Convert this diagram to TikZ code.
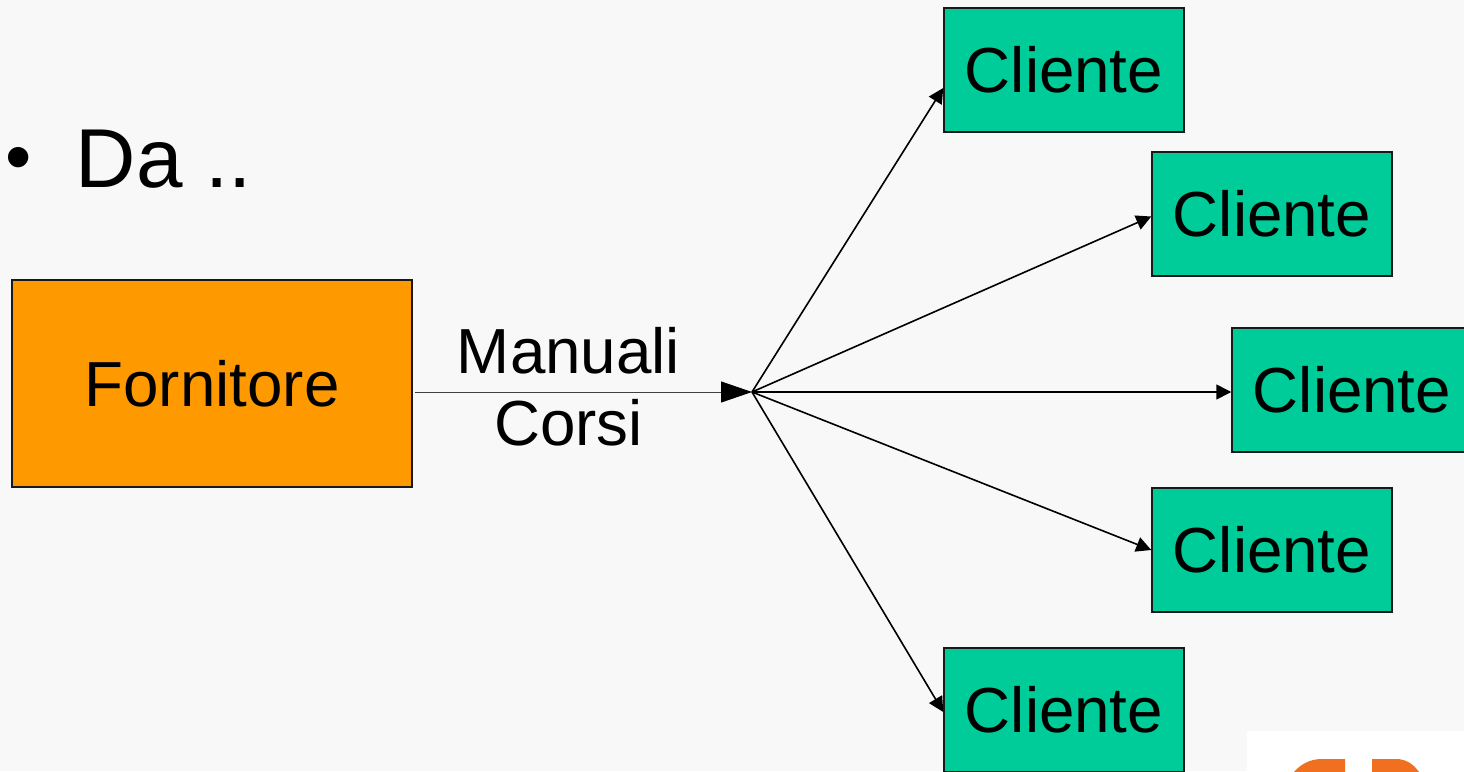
\documentclass[tikz,border=0pt]{standalone}
\usepackage{fontspec}
\setmainfont{Liberation Sans}
\usetikzlibrary{arrows.meta}
\definecolor{bgcol}{HTML}{F8F8F8}
\definecolor{clientecol}{HTML}{00CC99}
\definecolor{fornitorecol}{HTML}{FF9900}
\definecolor{logocol}{HTML}{F07020}
\tikzset{
  boxbase/.style={draw=black!90,line width=1.5pt,inner sep=0pt,font=\fontsize{63.7}{72}\selectfont,text height=45pt,text depth=0pt},
  cliente/.style={boxbase,fill=clientecol,minimum width=240pt,minimum height=124pt},
  fornitore/.style={boxbase,fill=fornitorecol,minimum width=400pt,minimum height=207pt},
  fan/.style={draw=black,line width=1.6pt,-{Triangle[length=15pt,width=15pt]}},
  feed/.style={draw=black!75,line width=0.9pt,-{Triangle[length=31pt,width=21pt,color=black]}},
  lab/.style={font=\fontsize{63.7}{72}\selectfont,anchor=base,inner sep=0pt},
  big/.style={font=\fontsize{83.6}{90}\selectfont,anchor=base west,inner sep=0pt},
  bulletmark/.style={font=\fontsize{75}{90}\selectfont,anchor=base west,inner sep=0pt}
}
\begin{document}
\begin{tikzpicture}[x=1pt,y=-1pt]
\useasboundingbox (0,0) rectangle (1464,771);
\fill[bgcol] (0,0) rectangle (1464,771);
% logo fragment
\fill[white] (1247,731) rectangle (1464,771);
\begin{scope}
\clip (1247,731) rectangle (1464,771);
\fill[logocol] (1345,759) -- (1345,772) -- (1294,772) .. controls (1300,765) and (1309,759) .. (1322,759) -- cycle;
\fill[logocol] (1372,759) -- (1372,772) -- (1419,772) .. controls (1414,765) and (1407,759) .. (1396,759) -- cycle;
\end{scope}
% title
\node[bulletmark] (bul) at (5,182.6) {•};
\node[big] (title) at (75.5,187) {Da ..};
% boxes
\node[fornitore] (f) at (212,383.5) {Fornitore};
\node[cliente] (c1) at (1064,70) {Cliente};
\node[cliente] (c2) at (1272,214) {Cliente};
\node[cliente] (c3) at (1352,390) {Cliente};
\node[cliente] (c4) at (1272,550) {Cliente};
\node[cliente] (c5) at (1064,710) {Cliente};
% labels
\node[lab] (m) at (568.5,373) {Manuali};
\node[lab] (k) at (568.5,445) {Corsi};
% connectors
\coordinate (hub) at (752,392);
\coordinate (fout) at (415,392);
\draw[feed] (fout) -- (hub);
\draw[fan] (hub) -- ([yshift=-18pt]c1.west);
\draw[fan] (hub) -- ([yshift=-2.5pt]c2.west);
\draw[fan] (hub) -- ([yshift=-2pt]c3.west);
\draw[fan] (hub) -- (c4.west);
\draw[fan] (hub) -- ([yshift=-2pt]c5.west);
\end{tikzpicture}
\end{document}
